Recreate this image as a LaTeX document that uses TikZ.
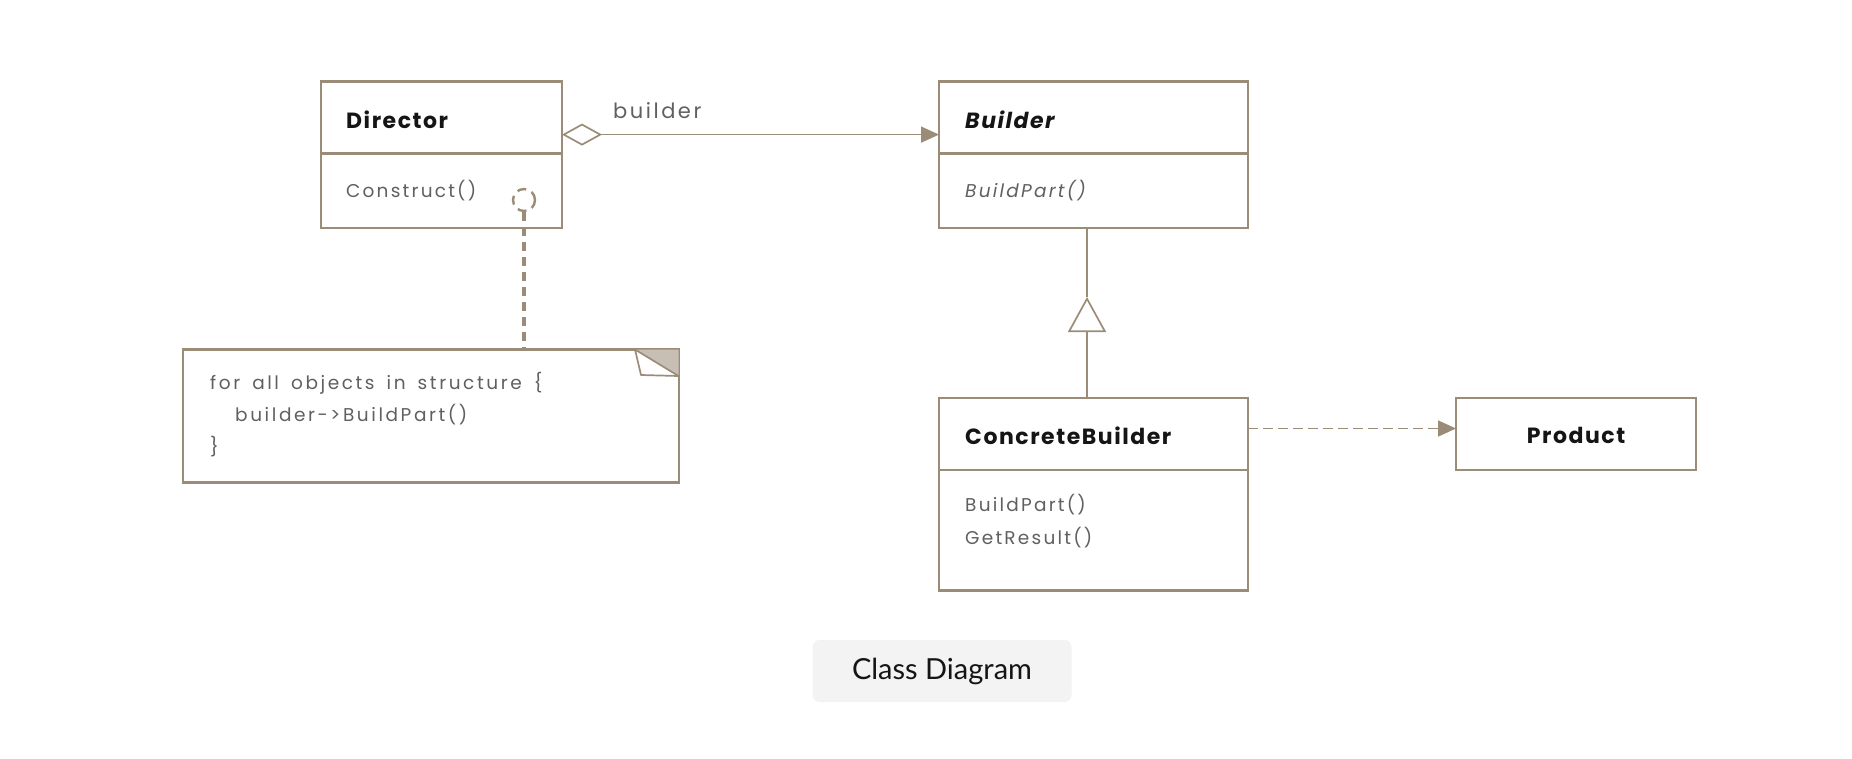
\documentclass[tikz,border=0pt]{standalone}
\usepackage{fontspec}
\setmainfont{Poppins}
\newfontfamily\capfont{Lato}
\newfontfamily\ttlfont[LetterSpace=7]{Poppins}
\newfontfamily\mthfont[LetterSpace=12]{Poppins}
\newfontfamily\notefont[LetterSpace=14,WordSpace=1.6]{Poppins}
\usetikzlibrary{arrows.meta,calc}
\definecolor{umlline}{HTML}{9B8C78}
\definecolor{foldgray}{HTML}{C8BFB4}
\definecolor{methodgray}{HTML}{606060}
\definecolor{capbg}{HTML}{F3F3F3}
\definecolor{titleblack}{HTML}{151515}
\begin{document}
\begin{tikzpicture}[x=1pt,y=-1pt,
  box/.style={draw=umlline, line width=2.4pt, fill=white, inner sep=0pt, outer sep=0pt},
  divider/.style={draw=umlline, line width=2.4pt},
  ttl/.style={anchor=west, font=\ttlfont\fontsize{22}{26}\selectfont\bfseries, text=titleblack, inner sep=0pt},
  mth/.style={anchor=west, font=\mthfont\fontsize{18.5}{24}\selectfont, text=methodgray, inner sep=0pt},
  notetxt/.style={anchor=west, font=\notefont\fontsize{18.5}{24}\selectfont, text=methodgray, inner sep=0pt},
  conn/.style={draw=umlline, line width=1.7pt},
  notelink/.style={draw=umlline, line width=3.2pt, dash pattern=on 9pt off 6pt},
  depdash/.style={dash pattern=on 10pt off 5pt},
]
\path[use as bounding box] (0,0) rectangle (1852,758);

% classes
\node[box, minimum width=241, minimum height=146.5] (dir) at (441.5,154.75) {};
\draw[divider] ($(dir.north west)+(0,72)$) -- ($(dir.north east)+(0,72)$);
\node[ttl] (dirT) at ($(dir.north west)+(25,38)$) {Director};
\node[mth] (dirM) at ($(dir.north west)+(25,109)$) {Construct()};

\node[box, minimum width=309, minimum height=146.5] (bld) at (1093.5,154.75) {};
\draw[divider] ($(bld.north west)+(0,72)$) -- ($(bld.north east)+(0,72)$);
\node[ttl, font=\ttlfont\fontsize{22}{26}\selectfont\bfseries\itshape] (bldT) at ($(bld.north west)+(26,38)$) {Builder};
\node[mth, font=\mthfont\fontsize{18.5}{24}\selectfont\itshape] (bldM) at ($(bld.north west)+(26,109)$) {BuildPart()};

\node[box, minimum width=309, minimum height=192.6] (cb) at (1093.5,494.3) {};
\draw[divider] ($(cb.north west)+(0,72)$) -- ($(cb.north east)+(0,72)$);
\node[ttl] (cbT) at ($(cb.north west)+(26,38)$) {ConcreteBuilder};
\node[mth] (cbM1) at ($(cb.north west)+(26,107)$) {BuildPart()};
\node[mth] (cbM2) at ($(cb.north west)+(26,140)$) {GetResult()};

\node[box, minimum width=240, minimum height=72] (prod) at (1576,434) {};
\node[ttl, anchor=center] (prodT) at (1576,435) {Product};

% note
\node[box, minimum width=496, minimum height=133] (note) at (430.75,416) {};
\fill[foldgray] (635,349.5) -- (678.5,349.5) -- (678.5,376) -- cycle;
\draw[umlline, line width=1.7pt, fill=white, line join=round] (635,349.5) -- (641,375) -- (678.5,376) -- cycle;
\node[notetxt] (noteA) at (210,383) {for all objects in structure \{};
\node[notetxt] (noteB) at (235,415) {builder->BuildPart()};
\node[notetxt] (noteC) at (210,447) {\}};

% note anchor circle and link
\node[draw=umlline, circle, minimum size=22, inner sep=0pt, line width=2.4pt, dash pattern=on 9pt off 6pt] (anc) at (524,200) {};
\draw[notelink] (anc.south) -- (note.north -| anc);

% aggregation
\coordinate (aggY) at (0,134.6);
\draw[conn, {Diamond[open, length=40, width=22, fill=white]}-{Triangle[length=18, width=16]}] (dir.east |- aggY) -- (bld.west |- aggY);
\node[anchor=west, inner sep=0pt, font=\mthfont\fontsize{21}{24}\selectfont, text=methodgray] (aggL) at (613,111) {builder};

% generalization
\coordinate (apex) at (1087,297);
\draw[conn] (bld.south -| apex) -- (apex);
\draw[conn, -{Triangle[open, length=35, width=38, fill=white]}] (cb.north -| apex) -- (apex);

% dependency
\coordinate (depY) at (0,428.5);
\draw[conn, depdash, -{Triangle[length=18, width=16]}] (cb.east |- depY) -- (prod.west |- depY);

% caption
\node[fill=capbg, rounded corners=7pt, minimum width=259, minimum height=62, inner sep=0pt, font=\capfont\fontsize{29}{34}\selectfont, text=titleblack] (cap) at (942,671) {Class Diagram};
\end{tikzpicture}
\end{document}
